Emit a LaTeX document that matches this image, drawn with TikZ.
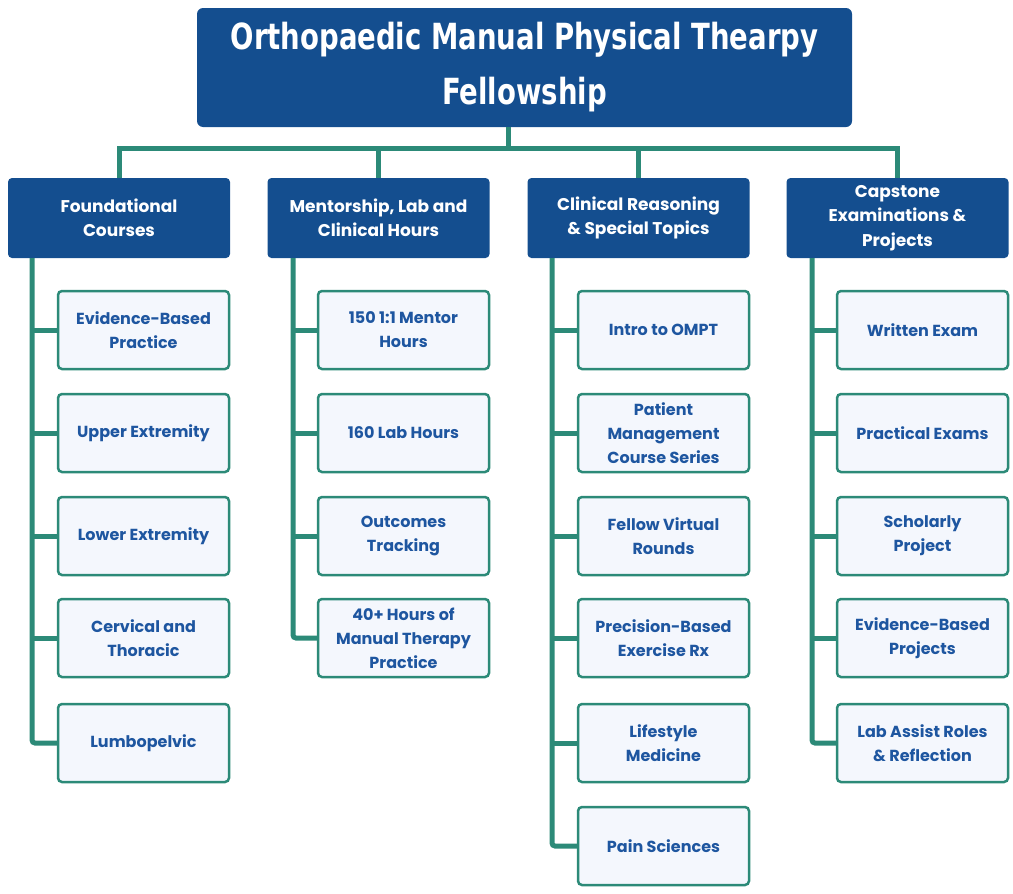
\documentclass[tikz,border=0pt]{standalone}
\usepackage{fontspec}
\setmainfont{Poppins}
\newfontfamily\titlefont[FakeStretch=0.85]{DejaVu Sans Condensed}
\definecolor{navy}{HTML}{144E8F}
\definecolor{teal}{HTML}{2C8A78}
\definecolor{itemblue}{HTML}{1E56A0}
\definecolor{itemfill}{HTML}{F4F7FD}

\begin{document}
\begin{tikzpicture}[x=1pt,y=-1pt,
  title/.style={rectangle,rounded corners=6pt,fill=navy,text=white,minimum width=655pt,minimum height=119pt,align=center,font=\titlefont\bfseries\fontsize{36}{55}\selectfont},
  head/.style={rectangle,rounded corners=4pt,fill=navy,text=white,minimum width=222pt,minimum height=80pt,align=center,font=\bfseries\fontsize{17}{24.5}\selectfont},
  item/.style={rectangle,rounded corners=4pt,draw=teal,line width=2.5pt,fill=itemfill,text=itemblue,minimum width=171pt,minimum height=78pt,align=center,font=\bfseries\fontsize{16}{24}\selectfont},
  link/.style={draw=teal,line width=5pt}]
\useasboundingbox (0,0) rectangle (1013,894);

\path (524.5,67.5) node[title] (top) {\raisebox{-3pt}{Orthopaedic Manual Physical Thearpy}\\\raisebox{-3pt}{Fellowship}};
\coordinate (tdrop) at (508,127);

\path (119,218) node[head] (found) {Foundational\\Courses};
\path (378.5,218) node[head] (mentor) {Mentorship, Lab and\\Clinical Hours};
\path (638.5,218) node[head] (clinic) {Clinical Reasoning\\\& Special Topics};
\path (897.5,218) node[head] (capst) {Capstone\\Examinations \&\\Projects};

\draw[link] (tdrop) -- ++(0,21) -| (found.north);
\draw[link] (tdrop) -- ++(0,21) -| (mentor.north);
\draw[link] (tdrop) -- ++(0,21) -| (clinic.north);
\draw[link] (tdrop) -- ++(0,21) -| (capst.north);

\path (143.5,330) node[item] (ebp) {Evidence-Based\\Practice};
\path (143.5,433) node[item] (upper) {Upper Extremity};
\path (143.5,536) node[item] (lower) {Lower Extremity};
\path (143.5,638) node[item] (cerv) {Cervical and\\Thoracic};
\path (143.5,743) node[item] (lumbo) {Lumbopelvic};

\coordinate (fdrop) at (32,258);
\draw[link,rounded corners=3pt] (fdrop) |- (lumbo.west);
\draw[link] (ebp.west) -- (fdrop |- ebp.west);
\draw[link] (upper.west) -- (fdrop |- upper.west);
\draw[link] (lower.west) -- (fdrop |- lower.west);
\draw[link] (cerv.west) -- (fdrop |- cerv.west);

\path (403.5,330) node[item] (ment) {150 1:1 Mentor\\Hours};
\path (403.5,433) node[item] (lab) {160 Lab Hours};
\path (403.5,536) node[item] (outc) {Outcomes\\Tracking};
\path (403.5,638) node[item] (manual) {40+ Hours of\\Manual Therapy\\Practice};

\coordinate (mdrop) at (293,258);
\draw[link,rounded corners=3pt] (mdrop) |- (manual.west);
\draw[link] (ment.west) -- (mdrop |- ment.west);
\draw[link] (lab.west) -- (mdrop |- lab.west);
\draw[link] (outc.west) -- (mdrop |- outc.west);

\path (663.5,330) node[item] (ompt) {Intro to OMPT};
\path (663.5,433) node[item] (patient) {Patient\\Management\\Course Series};
\path (663.5,536) node[item] (rounds) {Fellow Virtual\\Rounds};
\path (663.5,638) node[item] (prec) {Precision-Based\\Exercise Rx};
\path (663.5,743) node[item] (life) {Lifestyle\\Medicine};
\path (663.5,846) node[item] (pain) {Pain Sciences};

\coordinate (cdrop) at (552,258);
\draw[link,rounded corners=3pt] (cdrop) |- (pain.west);
\draw[link] (ompt.west) -- (cdrop |- ompt.west);
\draw[link] (patient.west) -- (cdrop |- patient.west);
\draw[link] (rounds.west) -- (cdrop |- rounds.west);
\draw[link] (prec.west) -- (cdrop |- prec.west);
\draw[link] (life.west) -- (cdrop |- life.west);

\path (922.5,330) node[item] (written) {Written Exam};
\path (922.5,433) node[item] (pract) {Practical Exams};
\path (922.5,536) node[item] (scholar) {Scholarly\\Project};
\path (922.5,638) node[item] (ebproj) {Evidence-Based\\Projects};
\path (922.5,743) node[item] (assist) {Lab Assist Roles\\\& Reflection};

\coordinate (kdrop) at (812,258);
\draw[link,rounded corners=3pt] (kdrop) |- (assist.west);
\draw[link] (written.west) -- (kdrop |- written.west);
\draw[link] (pract.west) -- (kdrop |- pract.west);
\draw[link] (scholar.west) -- (kdrop |- scholar.west);
\draw[link] (ebproj.west) -- (kdrop |- ebproj.west);
\end{tikzpicture}
\end{document}
